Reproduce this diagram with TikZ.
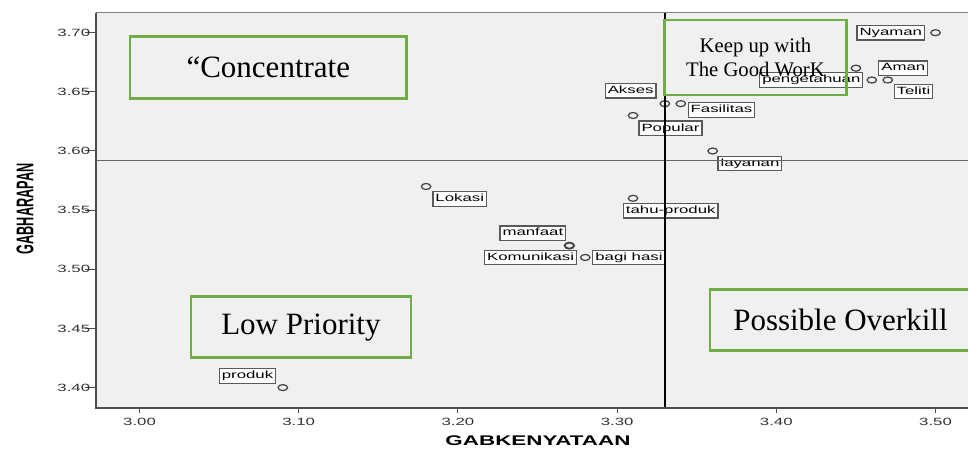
\documentclass[tikz,border=0pt]{standalone}
\usepackage{fontspec}
\newfontfamily\spssfont[FakeStretch=1.6]{Liberation Sans}
\newfontfamily\axisfont{Liberation Sans}
\newfontfamily\quadfont{Liberation Serif}
\usetikzlibrary{positioning,shapes.geometric}
\definecolor{plotbg}{HTML}{F0F0F0}
\definecolor{quadgreen}{HTML}{70AD47}
\definecolor{axisgrey}{HTML}{4D4D4D}

\begin{document}
\begin{tikzpicture}[x=15.92pt,y=11.83pt,
  obs/.style={ellipse,draw=black!75,line width=1.2pt,minimum width=9.5pt,minimum height=6pt,inner sep=0pt},
  lbl/.style={draw=black!65,line width=1.2pt,fill=white,inner xsep=2.5pt,inner ysep=2pt,text height=8pt,text depth=2.5pt,font=\spssfont\fontsize{10.5}{12}\selectfont},
  quad/.style={draw=quadgreen,line width=2.5pt,font=\quadfont\fontsize{31}{36}\selectfont,align=center},
  ticklbl/.style={font=\spssfont\fontsize{10.5}{12}\selectfont,text=black!80}]
		\useasboundingbox (-8.763,34.894) rectangle (52.04,72.764);
		\clip (-8.763,34.894) rectangle (52.04,72.764);
		\fill[plotbg] (-2.732,38.275) rectangle (53,71.665);
		\node[obs] (nyaman) at (50,70) {};
		\node[obs] (aman) at (45,67) {};
		\node[obs] (pengetahuan) at (46,66) {};
		\node[obs] (teliti) at (47,66) {};
		\node[obs] (akses) at (33,64) {};
		\node[obs] (fasilitas) at (34,64) {};
		\node[obs] (popular) at (31,63) {};
		\node[obs] (layanan) at (36,60) {};
		\node[obs] (lokasi) at (18,57) {};
		\node[obs] (tahu) at (31,56) {};
		\node[obs,line width=1.8pt] (manfaat) at (27,52) {};
		\node[obs] (komunikasi) at (28,51) {};
		\node[obs] (produk) at (9,40) {};
		\node[lbl,left=5pt of nyaman] (nyamanL) {Nyaman};
		\node[lbl,right=17pt of aman] (amanL) {Aman};
		\node[lbl,left=3pt of pengetahuan] (pengetahuanL) {pengetahuan};
		\node[lbl,below right=1pt and 2pt of teliti] (telitiL) {Teliti};
		\node[lbl,above left=2.5pt and 4.5pt of akses] (aksesL) {Akses};
		\node[lbl,below right=-4pt and 3pt of fasilitas] (fasilitasL) {Fasilitas};
		\node[lbl,below right=2.4pt and 1.6pt of popular] (popularL) {Popular};
		\node[lbl,below right=2pt and 1pt of layanan] (layananL) {layanan};
		\node[lbl,below right=2pt and 2.5pt of lokasi] (lokasiL) {Lokasi};
		\node[lbl,below=1pt of tahu,xshift=37.7pt] (tahuL) {tahu-produk};
		\node[lbl,above left=1.8pt and -1pt of manfaat] (manfaatL) {manfaat};
		\node[lbl,left=2.8pt of komunikasi] (komunikasiL) {Komunikasi};
		\node[lbl,right=1.6pt of komunikasi] (bagihasiL) {bagi hasi};
		\node[lbl,above left=1.2pt and 2.7pt of produk] (produkL) {produk};
		\draw[black!60,line width=1pt] (-2.732,59.2) -- (53,59.2);
		\draw[black,line width=1.3pt] (33,71.665) -- (33,38.275);
		\draw[black!50,line width=1pt] (-2.732,71.665) -- (53,71.665);
		\draw[axisgrey,line width=1.5pt] (-2.732,71.665) -- (-2.732,38.275) -- (53,38.275);
		\foreach \v in {40,45,...,70}
		  \draw[axisgrey,line width=1pt] (-3.42,\v) -- (-2.732,\v) node[ticklbl,anchor=east,xshift=-2pt] {3.\v};
		\foreach \u/\t in {0/3.00,10/3.10,20/3.20,30/3.30,40/3.40,50/3.50}
		  \draw[axisgrey,line width=1pt] (\u,38.275) -- (\u,37.85) node[ticklbl,anchor=north,yshift=-1pt] {\t};
		\node[font=\spssfont\bfseries\fontsize{14}{16}\selectfont] (xtitle) at (25.03,35.49) {GABKENYATAAN};
		\node[rotate=90,font=\axisfont\bfseries\fontsize{12.7}{14}\selectfont] (ytitle) at (-7.19,55.1) {\scalebox{1}[1.9]{GABHARAPAN}};
		\node[quad,minimum width=276.7pt,minimum height=61.6pt] (concentrate) at (8.09,67.06) {“Concentrate};
		\node[quad,minimum width=182.4pt,minimum height=75pt,font=\quadfont\fontsize{20.7}{23.5}\selectfont] (keepup) at (38.69,67.90) {Keep up with\\The Good WorK};
		\node[quad,minimum width=220.3pt,minimum height=61pt] (lowprio) at (10.14,45.11) {Low Priority};
		\node[quad,minimum width=261pt,minimum height=61.4pt] (overkill) at (44.03,45.71) {Possible Overkill};
\end{tikzpicture}
\end{document}
